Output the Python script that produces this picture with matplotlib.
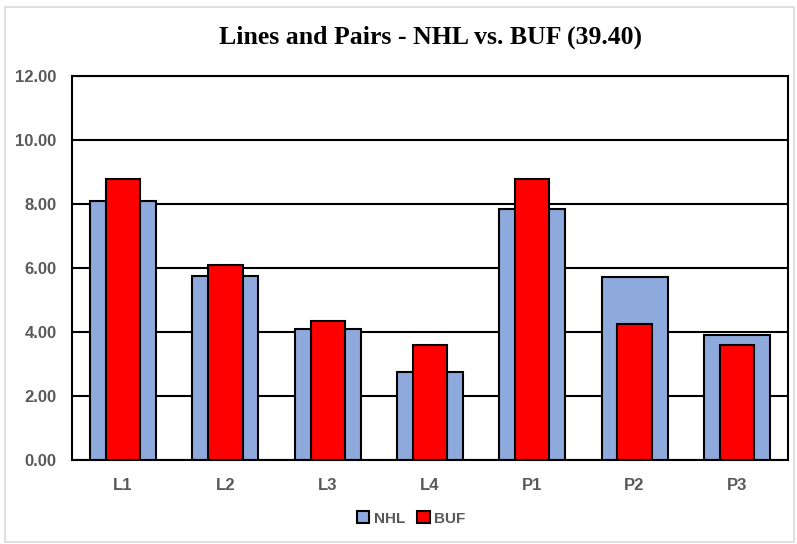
import matplotlib
matplotlib.use('Agg')
import matplotlib.pyplot as plt
import numpy as np
from matplotlib.patches import Rectangle

# data
categories = ['L1', 'L2', 'L3', 'L4', 'P1', 'P2', 'P3']
nhl = [8.08, 5.74, 4.10, 2.76, 7.83, 5.73, 3.91]
buf = [8.77, 6.09, 4.35, 3.60, 8.78, 4.25, 3.60]
yticks = [0, 2, 4, 6, 8, 10, 12]

grey = '#595959'
plt.rcParams['font.family'] = ['Liberation Sans', 'DejaVu Sans']

fig = plt.figure(figsize=(7.97, 5.44), dpi=100)
fig.patch.set_facecolor('white')
# chart border
fig.patches.append(Rectangle((0.006, 0.004), 0.99, 0.983, transform=fig.transFigure,
                             fill=False, edgecolor='#d9d9d9', linewidth=1.2))

ax = fig.add_axes([0.0903, 0.1544, 0.8984, 0.7059])
x = np.arange(len(categories))
ax.bar(x, nhl, width=0.645, color='#8EA9DB', edgecolor='black', linewidth=1.5,
       label='NHL', zorder=2)
ax.bar(x, buf, width=0.336, color='#FF0000', edgecolor='black', linewidth=1.5,
       label='BUF', zorder=3)

ax.set_xlim(-0.5, len(categories) - 0.5)
ax.set_ylim(0, 12)
ax.set_yticks(yticks)
ax.set_yticklabels(['%.2f' % v for v in yticks])
ax.set_xticks(x)
ax.set_xticklabels(categories)
ax.grid(axis='y', color='black', linewidth=1.5, zorder=1)
ax.set_axisbelow(True)
ax.tick_params(length=0, labelsize=12, colors=grey, pad=11)
ax.tick_params(axis='x', pad=13)
for lab in ax.get_xticklabels() + ax.get_yticklabels():
    lab.set_fontweight('bold')
for s in ax.spines.values():
    s.set_color('black')
    s.set_linewidth(1.5)

fig.text(0.54, 0.932, 'Lines and Pairs - NHL vs. BUF (39.40)', ha='center', va='center',
         fontsize=18.5, fontweight='bold', family=['Liberation Serif', 'DejaVu Serif'])

leg = fig.legend(loc='center', bbox_to_anchor=(0.516, 0.047), ncol=2, frameon=False,
                 handlelength=0.8, handleheight=0.8, handletextpad=0.3, columnspacing=0.8,
                 prop={'size': 11, 'weight': 'bold'})
for t in leg.get_texts():
    t.set_color(grey)

fig.savefig('out.png', dpi=100)
